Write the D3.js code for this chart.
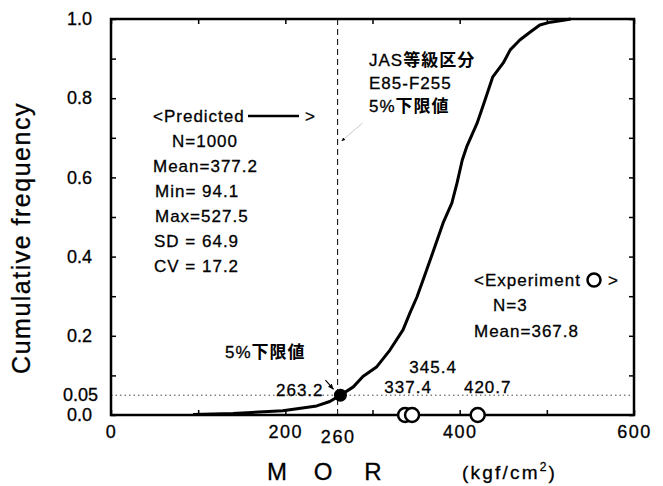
<!DOCTYPE html>
<html>
<head>
<meta charset="utf-8">
<script src="https://cdn.jsdelivr.net/npm/d3@7"></script>
<style>
body { margin: 0; background: #fff; }
svg { font-family: "Liberation Sans", Arial, "Noto Sans CJK JP", sans-serif; }
svg text { stroke: #000; stroke-width: 0.3px; }
.tick line { stroke: #000; stroke-width: 1.5; }
.cjk { font-family: "Noto Sans CJK JP", sans-serif; font-weight: 700; stroke-width: 0; }
</style>
</head>
<body>
<script>
// predicted cumulative frequency curve
var morValues = [94.1, 140, 197, 236, 251, 263.2, 278, 289, 305, 320, 335, 343, 351, 358, 369, 381, 391, 397, 403, 408, 420, 429, 438, 450, 458, 469, 481, 492, 504, 519, 527.5];
var cumFreq = [0.001, 0.004, 0.011, 0.023, 0.034, 0.05, 0.071, 0.097, 0.122, 0.164, 0.215, 0.258, 0.298, 0.341, 0.409, 0.485, 0.535, 0.586, 0.644, 0.677, 0.737, 0.795, 0.854, 0.889, 0.922, 0.947, 0.967, 0.985, 0.992, 0.997, 1.0];

// experiment results
var expValues = [337.4, 345.4, 420.7];
var expLabels = ["337.4", "345.4", "420.7"];

// 5% lower limit
var lowerLimit = 263.2;
var lowerFreq = 0.05;
var jasLimit = 260;

// ticks
var xMinorTicks = [0, 100, 200, 300, 400, 500, 600];
var xLabelTicks = [0, 200, 260, 400, 600];
var yMinorTicks = [0, 0.1, 0.2, 0.3, 0.4, 0.5, 0.6, 0.7, 0.8, 0.9, 1.0];
var yLabelTicks = [0, 0.05, 0.2, 0.4, 0.6, 0.8, 1.0];

// text blocks
var predictedStats = ["N=1000", "Mean=377.2", "Min= 94.1", "Max=527.5", "SD = 64.9", "CV = 17.2"];
var experimentStats = ["N=3", "Mean=367.8"];

var margin = {top: 19, right: 29, bottom: 71, left: 111},
    width = 663 - margin.left - margin.right,
    height = 486 - margin.top - margin.bottom;

var svg = d3.select("body").append("svg")
    .attr("width", 663)
    .attr("height", 486);

var g = svg.append("g")
    .attr("transform", "translate(" + margin.left + "," + margin.top + ")");

var x = d3.scaleLinear().domain([0, 600]).range([0, width]);
var y = d3.scaleLinear().domain([0, 1]).range([height, 0]);

// inward ticks on all four sides
function minor(sel) { sel.select(".domain").remove(); }
g.append("g").attr("transform", "translate(0," + height + ")")
    .call(d3.axisBottom(x).tickValues(xMinorTicks).tickSizeInner(-5).tickSizeOuter(0).tickFormat("")).call(minor);
g.append("g")
    .call(d3.axisTop(x).tickValues(xMinorTicks).tickSizeInner(-5).tickSizeOuter(0).tickFormat("")).call(minor);
g.append("g")
    .call(d3.axisLeft(y).tickValues(yMinorTicks).tickSizeInner(-5).tickSizeOuter(0).tickFormat("")).call(minor);
g.append("g").attr("transform", "translate(" + width + ",0)")
    .call(d3.axisRight(y).tickValues(yMinorTicks).tickSizeInner(-5).tickSizeOuter(0).tickFormat("")).call(minor);

// tick labels
var xLab = g.append("g").attr("transform", "translate(0," + height + ")")
    .call(d3.axisBottom(x).tickValues(xLabelTicks).tickSize(0).tickPadding(10).tickFormat(function(d) { return d; }));
xLab.select(".domain").remove();
xLab.selectAll("text")
    .attr("fill", "#000")
    .style("font-family", "'Liberation Sans', Arial, sans-serif")
    .style("font-size", "18px")
    .style("letter-spacing", "1.5px")
    .attr("y", function(d) { return d == jasLimit ? 15 : 10; });

var yLab = g.append("g")
    .call(d3.axisLeft(y).tickValues(yLabelTicks).tickSize(0).tickPadding(19)
        .tickFormat(function(d) { return d == 0.05 ? "0.05" : d3.format(".1f")(d); }));
yLab.select(".domain").remove();
yLab.selectAll("text")
    .attr("fill", "#000")
    .style("font-family", "'Liberation Sans', Arial, sans-serif")
    .style("font-size", "18px")
    .attr("x", function(d) { return d == 0.05 ? -13 : -19; });

// reference lines
g.append("line")
    .attr("x1", x(jasLimit)).attr("x2", x(jasLimit))
    .attr("y1", 0).attr("y2", height)
    .attr("stroke", "#000").attr("stroke-width", 1)
    .attr("stroke-dasharray", "6,4");

g.append("line")
    .attr("x1", 0).attr("x2", width)
    .attr("y1", y(lowerFreq)).attr("y2", y(lowerFreq))
    .attr("stroke", "#444").attr("stroke-width", 1)
    .attr("stroke-dasharray", "1.5,3");

// frame
g.append("rect")
    .attr("width", width).attr("height", height)
    .attr("fill", "none").attr("stroke", "#000").attr("stroke-width", 2.5);

// predicted curve
var curve = morValues.map(function(v, i) { return {v: v, f: cumFreq[i]}; });
var line = d3.line()
    .x(function(d) { return x(d.v); })
    .y(function(d) { return y(d.f); });

g.append("path")
    .datum(curve)
    .attr("d", line)
    .attr("fill", "none")
    .attr("stroke", "#000")
    .attr("stroke-width", 3)
    .attr("stroke-linejoin", "round");

// 5% lower limit point
g.append("circle")
    .attr("cx", x(lowerLimit)).attr("cy", y(lowerFreq))
    .attr("r", 6.5).attr("fill", "#000");

// experiment circles
g.selectAll(".exp")
    .data(expValues)
    .enter().append("circle")
    .attr("class", "exp")
    .attr("cx", function(d) { return x(d); })
    .attr("cy", y(0))
    .attr("r", 7)
    .attr("fill", "#fff")
    .attr("stroke", "#000")
    .attr("stroke-width", 2.5);

// experiment value labels
var expDx = [3, 21, 10], expDy = [-22, -42, -22];
g.selectAll(".explab")
    .data(expValues)
    .enter().append("text")
    .attr("class", "explab")
    .attr("x", function(d, i) { return x(d) + expDx[i]; })
    .attr("y", function(d, i) { return y(0) + expDy[i]; })
    .attr("text-anchor", "middle")
    .style("font-size", "17px")
    .style("letter-spacing", "1px")
    .text(function(d, i) { return expLabels[i]; });

// arrow marker
svg.append("defs").append("marker")
    .attr("id", "arr")
    .attr("viewBox", "0 0 10 10")
    .attr("refX", 9).attr("refY", 5)
    .attr("markerWidth", 5).attr("markerHeight", 5)
    .attr("orient", "auto")
    .append("path").attr("d", "M0,1 L10,5 L0,9 Z").attr("fill", "#000");

g.append("line")
    .attr("x1", x(lowerLimit) - 15).attr("y1", y(lowerFreq) - 15)
    .attr("x2", x(lowerLimit) - 7).attr("y2", y(lowerFreq) - 6)
    .attr("stroke", "#000").attr("stroke-width", 1.2)
    .attr("marker-end", "url(#arr)");

g.append("line")
    .attr("x1", x(jasLimit) + 25).attr("y1", 104)
    .attr("x2", x(jasLimit) + 4).attr("y2", 122)
    .attr("stroke", "#bbb").attr("stroke-width", 0.8)
    .attr("marker-end", "url(#arr)");

// text annotations
function label(xp, yp, txt, size, spacing) {
    return svg.append("text")
        .attr("x", xp).attr("y", yp)
        .style("font-size", (size || 17) + "px")
        .style("letter-spacing", (spacing == null ? 1 : spacing) + "px")
        .text(txt);
}

function cjk(sel, txt) {
    sel.append("tspan").attr("class", "cjk")
        .style("font-size", "17px").style("letter-spacing", "1px").text(txt);
}

label(153, 122, "<Predicted");
svg.append("line")
    .attr("x1", 248).attr("x2", 299)
    .attr("y1", 116).attr("y2", 116)
    .attr("stroke", "#000").attr("stroke-width", 2.5);
label(305, 122, ">");
var predX = [172, 153, 155, 155, 154, 154];
var predY = [147, 172, 197, 222, 247, 272];
predictedStats.forEach(function(s, i) { label(predX[i], predY[i], s); });

// JAS block
cjk(label(369, 66, "JAS"), "等級区分");
label(369, 89, "E85-F255");
cjk(label(369, 112, "5%"), "下限値");

// lower 5% label
cjk(label(225, 358, "5%"), "下限値");
label(276, 396, String(lowerLimit));

// experiment block
label(474, 286, "<Experiment");
svg.append("circle")
    .attr("cx", 594).attr("cy", 280).attr("r", 6.5)
    .attr("fill", "#fff").attr("stroke", "#000").attr("stroke-width", 2.5);
label(608, 286, ">");
label(493, 311, experimentStats[0]);
label(474, 337, experimentStats[1]);

// axis titles
svg.append("text")
    .attr("transform", "translate(30,238) rotate(-90)")
    .attr("text-anchor", "middle")
    .style("font-size", "25px")
    .style("letter-spacing", "1.5px")
    .text("Cumulative frequency");

var morLetters = ["M", "O", "R"];
var morX = [277, 323, 373];
morLetters.forEach(function(c, i) {
    svg.append("text")
        .attr("x", morX[i]).attr("y", 480)
        .attr("text-anchor", "middle")
        .style("font-size", "24px")
        .text(c);
});

var unit = label(462, 479, "(kgf/cm", 19, 2.2);
unit.append("tspan").attr("dy", -8).style("font-size", "12px").text("2");
unit.append("tspan").attr("dy", 8).text(")");
</script>
</body>
</html>
